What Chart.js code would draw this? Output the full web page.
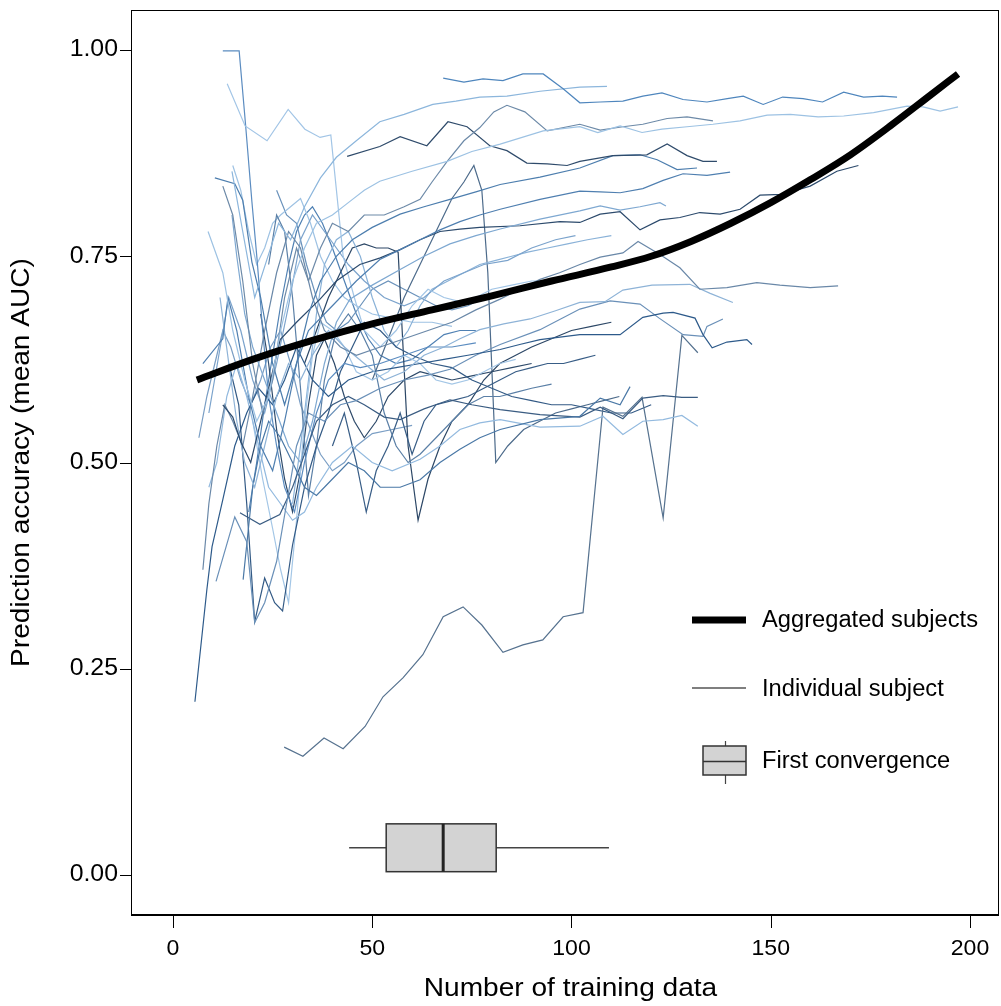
<!DOCTYPE html>
<html>
<head>
<meta charset="utf-8">
<script src="https://cdn.jsdelivr.net/npm/chart.js@4.4.1/dist/chart.umd.min.js"></script>
<style>
  html, body { margin: 0; padding: 0; background: #fff; }
  #wrap { width: 1001px; height: 1006px; }
</style>
</head>
<body>
<div id="wrap"><canvas id="myChart" width="1001" height="1006"></canvas></div>
<script>
// axis ticks
const xTicks = [0, 50, 100, 150, 200];
const yTicks = [0, 0.25, 0.5, 0.75, 1];

// aggregated subjects curve
const aggX = [6, 20, 35, 50, 65, 80, 95, 110, 120, 130, 140, 150, 160, 170, 180, 190, 197];
const aggY = [0.600, 0.625, 0.648, 0.668, 0.685, 0.702, 0.720, 0.737, 0.750, 0.768, 0.790, 0.815, 0.843, 0.873, 0.908, 0.945, 0.971];

// first convergence: min, q1, median, q3, max (number of training data)
const convergence = [44.2, 53.5, 67.8, 81.1, 109.4];
const convergenceY = 0.033;

// individual subjects: [training data, mean AUC]
const subjectCurves = [
  [[67.8,0.966],[73.0,0.961],[77.8,0.965],[82.8,0.963],[87.8,0.971],[92.9,0.971],[97.9,0.953],[102.1,0.936],[107.2,0.937],[112.9,0.938],[117.9,0.944],[122.7,0.948],[128.0,0.940],[134.0,0.937],[139.1,0.941],[143.1,0.944],[148.1,0.934],[153.0,0.943],[158.1,0.941],[163.0,0.937],[168.3,0.949],[173.3,0.943],[178.0,0.944],[181.7,0.943]],
  [[14.8,0.853],[17.5,0.78],[20.5,0.70],[23.5,0.745],[26.5,0.79],[29.5,0.77],[33,0.81],[37,0.845],[41,0.87],[46,0.89],[51.9,0.913],[58,0.922],[65.2,0.934],[71,0.938],[77,0.943],[83.8,0.944],[92.1,0.950],[102.1,0.955],[108.9,0.956]],
  [[8.8,0.78],[12.5,0.73],[15,0.66],[18,0.60],[21,0.55],[24,0.58],[27,0.66],[30,0.72],[33,0.76],[36,0.79],[40,0.80],[44,0.815],[48,0.83],[51.9,0.841],[60,0.853],[68.8,0.865],[75,0.877],[82.1,0.886],[92.9,0.902],[102.1,0.907],[106.6,0.900],[112.2,0.908],[117.7,0.900],[122.7,0.904],[129,0.907],[135.5,0.910],[142.3,0.914],[149.1,0.921],[154.9,0.922],[161.9,0.919],[168.3,0.920],[175.8,0.924],[184.2,0.932],[188.2,0.931],[192.5,0.926],[197.0,0.931]],
  [[12.5,0.835],[15,0.80],[17.5,0.72],[20,0.62],[22.5,0.56],[25,0.60],[28,0.70],[31,0.76],[34,0.72],[37,0.76],[40,0.79],[44,0.78],[48,0.80],[53,0.80],[58,0.81],[62,0.819],[65,0.84],[68.8,0.865],[73,0.89],[77,0.906],[80.5,0.925],[83.8,0.933],[88.3,0.925],[93.9,0.902],[102.1,0.910],[107.2,0.903],[112.9,0.907],[117.9,0.910],[124.0,0.917],[129.0,0.919],[135.5,0.914]],
  [[43.7,0.871],[51.9,0.883],[57,0.895],[63.7,0.884],[69,0.913],[73.8,0.907],[79.5,0.884],[83.8,0.878],[88.8,0.863],[93.9,0.862],[98.9,0.860],[102.1,0.865],[110.4,0.872],[118.9,0.873],[124,0.886],[129,0.872],[133,0.865],[136.5,0.865]],
  [[10.5,0.845],[15.5,0.838],[17.5,0.818],[19.8,0.743],[22,0.70],[25,0.62],[28,0.57],[31,0.62],[34,0.68],[37,0.72],[41,0.75],[45,0.77],[50,0.785],[57,0.801],[63,0.81],[69.5,0.819],[76,0.828],[82.1,0.837],[92.1,0.846],[102.1,0.857],[110.4,0.872],[117.2,0.873],[121.5,0.867],[126.5,0.855],[131.5,0.857]],
  [[7.5,0.62],[12.5,0.65],[13,0.67],[13.8,0.70],[16,0.66],[19,0.58],[22,0.52],[25,0.49],[28,0.55],[31,0.62],[34,0.66],[38,0.68],[42,0.70],[46,0.72],[51.9,0.746],[57,0.758],[62,0.770],[67,0.782],[72,0.792],[77,0.80],[82.1,0.807],[92.1,0.819],[102.1,0.829],[107.2,0.828],[112.2,0.827],[117.9,0.832],[123,0.842],[128,0.850],[134,0.848],[139.8,0.852]],
  [[14.8,0.80],[16,0.75],[18,0.68],[20,0.64],[23,0.60],[26,0.56],[29,0.52],[32,0.50],[35,0.55],[38,0.62],[41,0.67],[44.4,0.698],[50,0.715],[57,0.734],[63,0.75],[69.5,0.765],[76,0.775],[82.1,0.783],[92.1,0.795],[102.1,0.805],[107.2,0.811],[112.2,0.806],[117.2,0.810],[122.2,0.815],[123.7,0.811]],
  [[12.5,0.57],[15,0.555],[17,0.525],[19.5,0.50],[22,0.55],[24.5,0.60],[26.9,0.649],[31,0.67],[36.9,0.698],[41,0.72],[46.9,0.740],[52,0.748],[57,0.758],[62,0.77],[67,0.780],[72,0.783],[77,0.785],[87.1,0.787],[97.1,0.792],[102.1,0.791],[107.2,0.801],[112.2,0.804],[117.2,0.782],[122.2,0.794],[127.2,0.797],[132.2,0.803],[137.3,0.801],[142.3,0.807],[147.3,0.824],[152.8,0.825],[159.9,0.835],[166.6,0.853],[172.0,0.860]],
  [[7.5,0.37],[9,0.45],[11,0.52],[13,0.57],[15,0.55],[17.5,0.52],[20,0.58],[23,0.66],[26,0.73],[29,0.78],[32,0.76],[35,0.70],[38,0.66],[42,0.64],[46,0.63],[52,0.64],[58,0.65],[64,0.66],[70,0.67],[76,0.685],[82.1,0.698],[87,0.71],[92.1,0.722],[97,0.73],[102.1,0.740],[107.2,0.749],[112.9,0.754],[116.7,0.768],[122.2,0.752],[127.2,0.736],[132.2,0.710],[139,0.712],[146.5,0.718],[152.3,0.715],[159.9,0.712],[166.9,0.714]],
  [[11.8,0.70],[14,0.62],[16,0.55],[18,0.50],[20.5,0.47],[23,0.52],[26,0.58],[29,0.62],[32,0.60],[35,0.63],[39,0.66],[43,0.64],[48,0.62],[53,0.60],[58,0.61],[63,0.63],[68,0.64],[72,0.65],[77,0.661],[83,0.668],[89.6,0.674],[96,0.684],[102.1,0.694],[108.4,0.695],[112.9,0.709],[120.2,0.715],[129.7,0.716],[134.8,0.705],[140.5,0.694]],
  [[5.5,0.21],[8.5,0.346],[9.8,0.398],[12.5,0.455],[15.5,0.52],[18.5,0.56],[21.5,0.59],[25,0.57],[28,0.60],[31,0.64],[35,0.60],[39,0.58],[44,0.60],[50,0.61],[56,0.615],[62,0.62],[68,0.625],[74,0.63],[82.1,0.637],[87,0.643],[92.1,0.649],[102.1,0.655],[112.2,0.655],[117.9,0.676],[123,0.681],[125.5,0.682],[131,0.675],[133,0.655],[135.3,0.639],[139,0.646],[144,0.649],[145.3,0.643]],
  [[10.8,0.356],[15.5,0.434],[18.5,0.404],[20.5,0.306],[23,0.33],[26,0.38],[28.5,0.45],[31,0.52],[34,0.56],[38,0.55],[42,0.57],[46,0.575],[52,0.59],[58,0.60],[64,0.606],[69.5,0.613],[76,0.63],[82.1,0.643],[92.1,0.661],[102.1,0.686],[109.7,0.696],[117.2,0.692],[122,0.675],[128,0.655],[133,0.653],[134,0.665],[138,0.674]],
  [[17.6,0.358],[18.5,0.40],[20,0.47],[22,0.52],[24,0.55],[27,0.53],[30,0.50],[33,0.47],[36,0.46],[40,0.48],[44,0.50],[48,0.49],[52,0.47],[57,0.47],[62,0.479],[67,0.50],[72,0.516],[77,0.53],[82.1,0.540],[92.1,0.552],[102.1,0.556],[107.2,0.578],[112.2,0.570],[114.7,0.592]],
  [[16.8,0.439],[21.8,0.425],[26.8,0.437],[30,0.47],[33,0.51],[36,0.55],[40,0.57],[44,0.58],[48,0.57],[53,0.555],[57,0.552],[63,0.565],[69.5,0.576],[75,0.57],[82.1,0.564],[92.1,0.558],[102.1,0.555],[107.2,0.567],[112.9,0.553],[117.9,0.578],[123,0.581],[127.7,0.579],[131.7,0.579]],
  [[9,0.47],[11,0.50],[13.5,0.58],[16,0.62],[18.5,0.58],[21,0.53],[24,0.47],[27,0.45],[30,0.43],[33,0.44],[36,0.47],[40,0.50],[45,0.52],[50,0.50],[55,0.49],[62,0.504],[67,0.52],[72,0.540],[77,0.548],[82.1,0.552],[92.1,0.543],[102.1,0.544],[107.9,0.556],[112.9,0.534],[117.9,0.550],[123,0.552],[127.7,0.557],[131.7,0.544]],
  [[27.9,0.155],[32.6,0.144],[37.9,0.166],[42.7,0.153],[48.2,0.180],[52.7,0.216],[57.7,0.239],[62.7,0.267],[67.8,0.313],[72.8,0.325],[77.5,0.303],[82.8,0.270],[87.8,0.279],[92.8,0.285],[97.9,0.313],[102.9,0.318],[107.9,0.567],[112.9,0.556],[117.7,0.579],[123.0,0.433],[127.7,0.654],[131.7,0.633]],
  [[13.6,0.959],[18.1,0.908],[23.6,0.890],[28.9,0.928],[33.1,0.904],[36.9,0.894],[39.6,0.897],[42.7,0.75],[45.5,0.70],[48,0.66],[52,0.64],[56,0.66],[60,0.69],[64,0.71],[68,0.70],[72,0.695],[76,0.70],[80,0.71],[85,0.715],[90,0.72],[95,0.72],[100,0.725]],
  [[12.5,0.999],[16.6,0.999],[18.2,0.91],[19.8,0.816],[21.1,0.746],[22.5,0.66],[24,0.58],[26,0.52],[28,0.47],[30.5,0.44],[33,0.50],[36,0.56],[39,0.60],[43,0.62],[47,0.615],[52,0.62],[58,0.63],[64,0.64],[70,0.64],[76,0.645]],
  [[9,0.56],[11.5,0.63],[14,0.70],[17,0.66],[20,0.60],[23,0.56],[26,0.62],[29,0.69],[32,0.77],[35,0.80],[38,0.78],[41,0.76],[44,0.74],[48,0.72],[53,0.70],[58,0.69],[63,0.70],[68,0.72],[73,0.73],[78,0.74],[84,0.745],[90,0.76],[96,0.77],[101,0.775]],
  [[14,0.62],[16.5,0.57],[18.5,0.45],[20.5,0.307],[23,0.36],[25.5,0.33],[27.5,0.32],[30,0.40],[33,0.47],[36,0.52],[39,0.56],[42,0.61],[45,0.64],[48,0.67],[52,0.66],[56,0.64],[60,0.63],[65,0.62],[70,0.615],[75,0.60],[80,0.59],[85,0.58],[90,0.575],[95,0.57],[100,0.57],[105,0.565],[110,0.56],[115,0.56],[120,0.57]],
  [[20,0.55],[22.5,0.48],[25,0.42],[27,0.37],[29,0.33],[31,0.43],[33,0.55],[35,0.63],[37,0.67],[40,0.66],[43,0.64],[46,0.61],[50,0.60],[54,0.61],[58,0.63],[62,0.62],[66,0.60],[70,0.595],[74,0.60],[78,0.61],[82,0.62],[86,0.625]],
  [[24,0.74],[26,0.80],[28,0.78],[30,0.70],[32,0.59],[34,0.46],[36,0.52],[38,0.60],[41,0.66],[44,0.68],[47,0.66],[50,0.63],[53,0.56],[56,0.52],[59,0.50],[62,0.51],[66,0.53],[70,0.55],[74,0.57],[78,0.58],[82,0.58],[86,0.585],[90,0.59],[95,0.595]],
  [[30,0.45],[32,0.52],[34,0.60],[36,0.68],[38,0.74],[41,0.77],[44,0.78],[47,0.75],[50,0.70],[53,0.66],[56,0.64],[59,0.66],[62,0.69],[65,0.71],[69,0.72],[73,0.73],[77,0.74],[81,0.745],[85,0.75],[89,0.755],[94,0.76],[99,0.765],[104,0.77],[110,0.775]],
  [[40,0.52],[43,0.56],[46,0.50],[48.5,0.44],[51,0.49],[54,0.52],[57,0.56],[60,0.51],[63,0.55],[66,0.57],[70,0.575],[74,0.58],[78,0.59],[82,0.60],[86,0.61],[90,0.615],[94,0.62],[98,0.62],[102,0.625],[106,0.63]],
  [[33,0.62],[36,0.66],[39,0.70],[42,0.73],[45,0.76],[48,0.765],[51,0.76],[54,0.76],[56.5,0.755],[59,0.52],[61.5,0.43],[64,0.48],[67,0.52],[70,0.55],[74,0.57],[78,0.60],[82,0.62],[86,0.63],[90,0.64],[95,0.65],[100,0.66],[105,0.665],[110,0.67]],
  [[50,0.60],[54,0.65],[58,0.70],[62,0.74],[66,0.78],[70,0.82],[73,0.84],[75.5,0.86],[77.5,0.83],[79,0.73],[81,0.50],[84,0.52],[88,0.54],[92,0.55],[96,0.56],[100,0.565],[104,0.57],[108,0.575],[112,0.58]],
  [[6.5,0.53],[8.5,0.58],[10.5,0.62],[12.5,0.66],[14.5,0.64],[17,0.60],[19.5,0.57],[22,0.60],[24.5,0.64],[27,0.66],[29.5,0.62],[32,0.57],[34.5,0.54],[37,0.51],[40,0.49],[43,0.50],[46,0.52],[50,0.535],[55,0.54],[60,0.545]],
  [[15,0.86],[17,0.83],[19,0.78],[21,0.74],[23,0.76],[25,0.79],[27,0.80],[29.5,0.81],[32,0.82],[34.5,0.79],[37,0.75],[40,0.72],[43,0.70],[46,0.69],[50,0.68],[55,0.675],[60,0.67],[65,0.67],[70,0.665]],
  [[22,0.68],[24,0.62],[26,0.54],[28,0.48],[30,0.44],[32,0.49],[34,0.57],[36,0.63],[38,0.65],[40.5,0.62],[43,0.58],[45.5,0.55],[48,0.53],[51,0.55],[54,0.58],[58,0.60],[62,0.61],[66,0.605],[70,0.60],[75,0.605],[80,0.61],[85,0.615],[90,0.62]],
  [[26,0.83],[28.5,0.80],[31,0.79],[33.5,0.74],[36,0.70],[38.5,0.67],[41,0.66],[44,0.67],[47,0.69],[50,0.71],[54,0.72],[58,0.71],[62,0.70],[66,0.69],[70,0.685],[74,0.69],[78,0.70],[82,0.705],[86,0.71]],
  [[19,0.44],[21,0.50],[23,0.57],[25,0.63],[27,0.69],[29,0.74],[31,0.78],[33,0.80],[35,0.81],[37.5,0.79],[40,0.76],[43,0.72],[46,0.68],[49,0.65],[52,0.63],[56,0.62],[60,0.625],[64,0.64],[68,0.655],[72,0.66],[76,0.66]]
];

const subjectColors = [
  '#4f86bd', '#8cb6dc', '#9dc2e3', '#6d8aa8', '#2f4b6b', '#4d7eae', '#4f7fb0', '#7ea8d1',
  '#2c4a6c', '#6a88a8', '#8eb3d7', '#2d5a8a', '#6a90b8', '#4a78a6', '#3a5c82', '#93badf',
  '#56728f', '#a2c5e6', '#5b8cc0', '#7ba3cc', '#335a85', '#a3c6e6', '#5a7fa6', '#8ab2d8',
  '#385d86', '#2c4766', '#4d6b8b', '#7a9ec4', '#9ec2e3', '#2e4a6a', '#6a92bb', '#4f80b3'
];

const FONT = '"Liberation Sans", Arial, sans-serif';

function drawText(c, text, x, y, size, align, sx, rot) {
  c.save();
  c.translate(x, y);
  if (rot) c.rotate(rot);
  c.scale(sx || 1, 1);
  c.font = size + 'px ' + FONT;
  c.fillStyle = '#000';
  c.textAlign = align;
  c.textBaseline = 'middle';
  c.fillText(text, 0, 0);
  c.restore();
}

// horizontal boxplot in pixel space
function drawBox(c, xMin, xQ1, xMed, xQ3, xMax, yMid, yTop, yBot) {
  c.save();
  c.strokeStyle = '#444';
  c.lineWidth = 1.3;
  c.beginPath();
  c.moveTo(xMin, yMid); c.lineTo(xQ1, yMid);
  c.moveTo(xQ3, yMid); c.lineTo(xMax, yMid);
  c.stroke();
  c.fillStyle = '#d3d3d3';
  c.fillRect(xQ1, yTop, xQ3 - xQ1, yBot - yTop);
  c.strokeStyle = '#333';
  c.lineWidth = 1.5;
  c.strokeRect(xQ1, yTop, xQ3 - xQ1, yBot - yTop);
  c.strokeStyle = '#222';
  c.lineWidth = 3;
  c.beginPath();
  c.moveTo(xMed, yTop); c.lineTo(xMed, yBot);
  c.stroke();
  c.restore();
}

// legend key: upright box with a horizontal median
function drawBoxKey(c, left, top, right, bottom) {
  const cx = Math.round((left + right) / 2) + 0.5;
  const mid = Math.round((top + bottom) / 2) + 0.5;
  c.save();
  c.strokeStyle = '#444';
  c.lineWidth = 1.2;
  c.beginPath();
  c.moveTo(cx, top - 5); c.lineTo(cx, top);
  c.moveTo(cx, bottom); c.lineTo(cx, bottom + 9);
  c.stroke();
  c.fillStyle = '#d3d3d3';
  c.fillRect(left, top, right - left, bottom - top);
  c.strokeStyle = '#333';
  c.lineWidth = 1.5;
  c.strokeRect(left, top, right - left, bottom - top);
  c.lineWidth = 1.5;
  c.beginPath();
  c.moveTo(left, mid); c.lineTo(right, mid);
  c.stroke();
  c.restore();
}

const decorations = {
  id: 'decorations',
  afterDatasetsDraw(chart) {
    const c = chart.ctx;
    const xs = chart.scales.x, ys = chart.scales.y;
    const half = 0.029;
    drawBox(c,
      xs.getPixelForValue(convergence[0]), xs.getPixelForValue(convergence[1]),
      xs.getPixelForValue(convergence[2]), xs.getPixelForValue(convergence[3]),
      xs.getPixelForValue(convergence[4]),
      ys.getPixelForValue(convergenceY),
      ys.getPixelForValue(convergenceY + half), ys.getPixelForValue(convergenceY - half));
  },
  afterDraw(chart) {
    const c = chart.ctx;
    const a = chart.chartArea;
    const xs = chart.scales.x, ys = chart.scales.y;
    c.save();
    // frame
    c.strokeStyle = '#000';
    c.lineWidth = 1;
    c.strokeRect(a.left + 0.5, a.top + 0.5, a.right - a.left - 1, a.bottom - a.top - 1);
    c.lineWidth = 2;
    c.beginPath();
    c.moveTo(a.left, a.bottom); c.lineTo(a.right, a.bottom);
    c.stroke();
    // ticks
    c.lineWidth = 1;
    c.beginPath();
    xTicks.forEach(v => {
      const px = Math.round(xs.getPixelForValue(v)) + 0.5;
      c.moveTo(px, a.bottom + 1); c.lineTo(px, a.bottom + 13);
    });
    yTicks.forEach(v => {
      const py = Math.round(ys.getPixelForValue(v)) + 0.5;
      c.moveTo(a.left, py); c.lineTo(a.left - 11, py);
    });
    c.stroke();
    c.restore();
    xTicks.forEach(v => drawText(c, String(v), xs.getPixelForValue(v), a.bottom + 34, 22, 'center', 1.05));
    yTicks.forEach(v => drawText(c, v.toFixed(2), a.left - 13, ys.getPixelForValue(v), 23, 'right', 1.08));
    drawText(c, 'Number of training data', (xs.getPixelForValue(0) + xs.getPixelForValue(200)) / 2 - 1, a.bottom + 74, 26, 'center', 1.08);
    drawText(c, 'Prediction accuracy (mean AUC)', 22, (a.top + a.bottom) / 2, 26, 'center', 1.08, -Math.PI / 2);

    // legend
    c.save();
    c.strokeStyle = '#000';
    c.lineWidth = 7;
    c.beginPath();
    c.moveTo(692, 620); c.lineTo(746, 620);
    c.stroke();
    c.strokeStyle = '#555';
    c.lineWidth = 1.3;
    c.beginPath();
    c.moveTo(692, 688); c.lineTo(746, 688);
    c.stroke();
    c.restore();
    drawBoxKey(c, 703, 746, 746, 775);
    drawText(c, 'Aggregated subjects', 762, 621, 23, 'left', 1.03);
    drawText(c, 'Individual subject', 762, 690, 23, 'left', 1.03);
    drawText(c, 'First convergence', 762, 762, 23, 'left', 1.03);
  }
};

const datasets = [{
  data: aggX.map((x, i) => ({ x: x, y: aggY[i] })),
  borderColor: '#000',
  borderWidth: 7,
  borderCapStyle: 'butt',
  cubicInterpolationMode: 'monotone',
  pointRadius: 0
}];
subjectCurves.forEach((curve, i) => {
  datasets.push({
    data: curve.map(p => ({ x: p[0], y: p[1] })),
    borderColor: subjectColors[i % subjectColors.length],
    borderWidth: 1.2,
    tension: 0,
    pointRadius: 0
  });
});

const ctx = document.getElementById('myChart').getContext('2d');
new Chart(ctx, {
  type: 'line',
  data: { datasets: datasets },
  options: {
    responsive: false,
    animation: false,
    events: [],
    layout: { padding: { left: 131, right: 2, top: 10, bottom: 91 } },
    plugins: { legend: { display: false }, tooltip: { enabled: false } },
    scales: {
      x: { type: 'linear', min: -10.54, max: 207.28, display: false },
      y: { type: 'linear', min: -0.0485, max: 1.0485, display: false }
    }
  },
  plugins: [decorations]
});
</script>
</body>
</html>
